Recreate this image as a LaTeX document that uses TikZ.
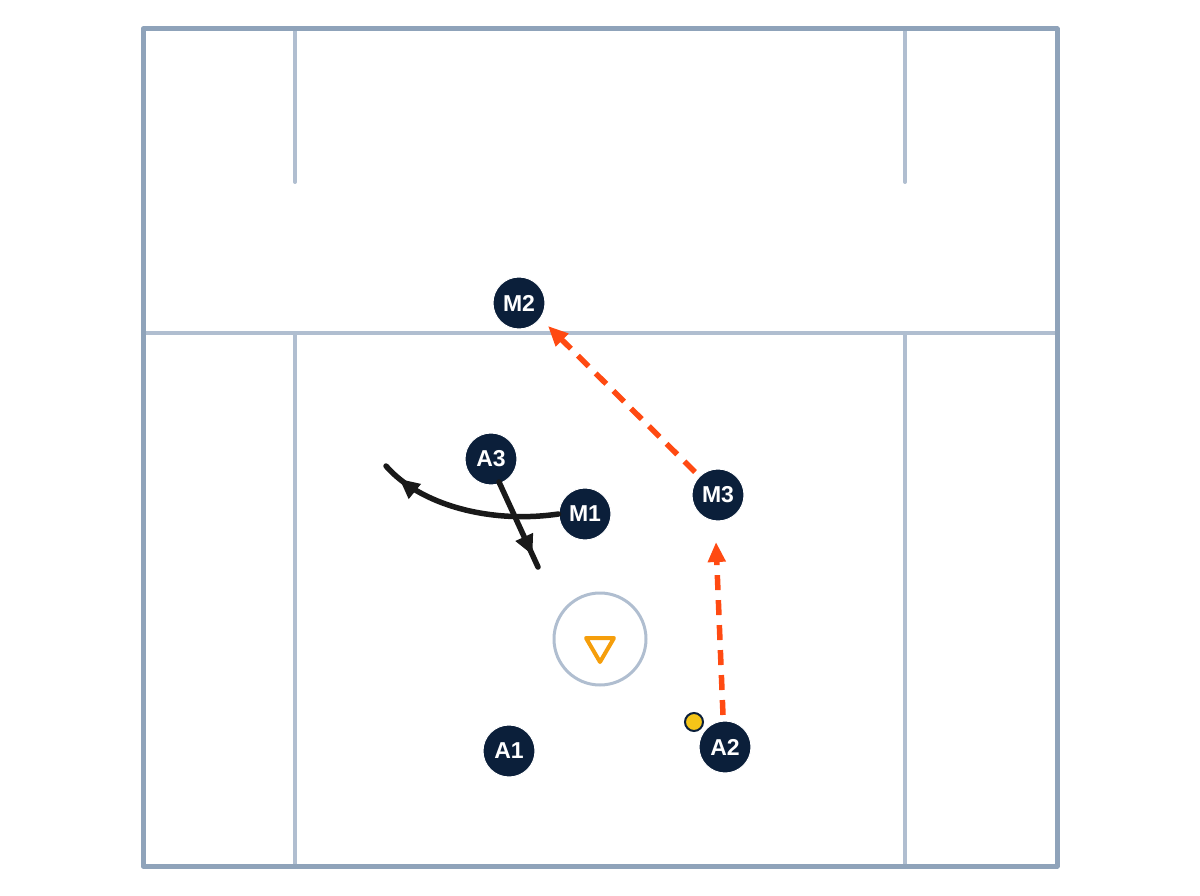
\documentclass[tikz,border=0pt]{standalone}
\usepackage{fontspec}
\setmainfont{Liberation Sans}
\usetikzlibrary{arrows.meta,decorations.markings}
\definecolor{outer}{HTML}{8FA3BA}
\definecolor{inner}{HTML}{B0BED0}
\definecolor{navy}{HTML}{0B1F3A}
\definecolor{runc}{HTML}{FF4A12}
\definecolor{ballc}{HTML}{F5C518}
\definecolor{conec}{HTML}{F59E0B}
\tikzset{
  player/.style={circle,fill=navy,draw=white,line width=1pt,minimum size=52pt,inner sep=0pt,text=white,font=\fontsize{23}{23}\selectfont\bfseries},
  fieldouter/.style={draw=outer,line width=5pt,line cap=round,line join=round},
  fieldinner/.style={draw=inner,line width=4pt,line cap=round},
  cut/.style={draw=black!90,line width=5.5pt,line cap=round},
  pass/.style={draw=runc,line width=5.5pt,dash pattern=on 15pt off 10pt,-{Triangle[length=20pt,width=17pt]}},
  midarrow/.style={postaction={decorate},decoration={markings,mark=at position #1 with {\arrow{Triangle[length=20pt,width=18pt]}}}}
}
\begin{document}
\begin{tikzpicture}[x=1pt,y=-1pt]
\useasboundingbox (0,0) rectangle (1200,896);
% field lines
\draw[fieldinner] (295,29) -- (295,182);
\draw[fieldinner] (905,29) -- (905,182);
\draw[fieldinner] (143,333) -- (1057,333);
\draw[fieldinner] (295,333) -- (295,866);
\draw[fieldinner] (905,333) -- (905,866);
\draw[fieldouter] (143,29) rectangle (1057,866);
% crease and cone
\node[circle,draw=inner,line width=3pt,minimum size=92pt,inner sep=0pt] (crease) at (600,639) {};
\draw[draw=conec,line width=4pt,line join=round] (586,638) -- (614,638) -- (600,662) -- cycle;
% players
\node[player] (M2) at (519,303) {M2};
\node[player] (A3) at (491,459) {A3};
\node[player] (M1) at (585,514) {M1};
\node[player] (M3) at (718,495) {M3};
\node[player] (A1) at (509,751) {A1};
\node[player] (A2) at (725,747) {A2};
% ball
\node[circle,fill=ballc,draw=navy,line width=2pt,minimum size=18pt,inner sep=0pt] (ball) at (694,722) {};
% cuts
\coordinate (m1end) at (386,466);
\coordinate (a3end) at (538,567);
\draw[cut,midarrow=0.9] (M1.west) .. controls (490,524) and (420,505) .. (m1end);
\draw[cut,midarrow=0.86] (A3) ++(8,23) -- (a3end);
% passes / runs
\coordinate (m2tip) at (548,326);
\coordinate (m3tip) at (716,542);
\draw[pass] (695,472) -- (m2tip);
\draw[pass] (723,715) -- (m3tip);
\end{tikzpicture}
\end{document}
